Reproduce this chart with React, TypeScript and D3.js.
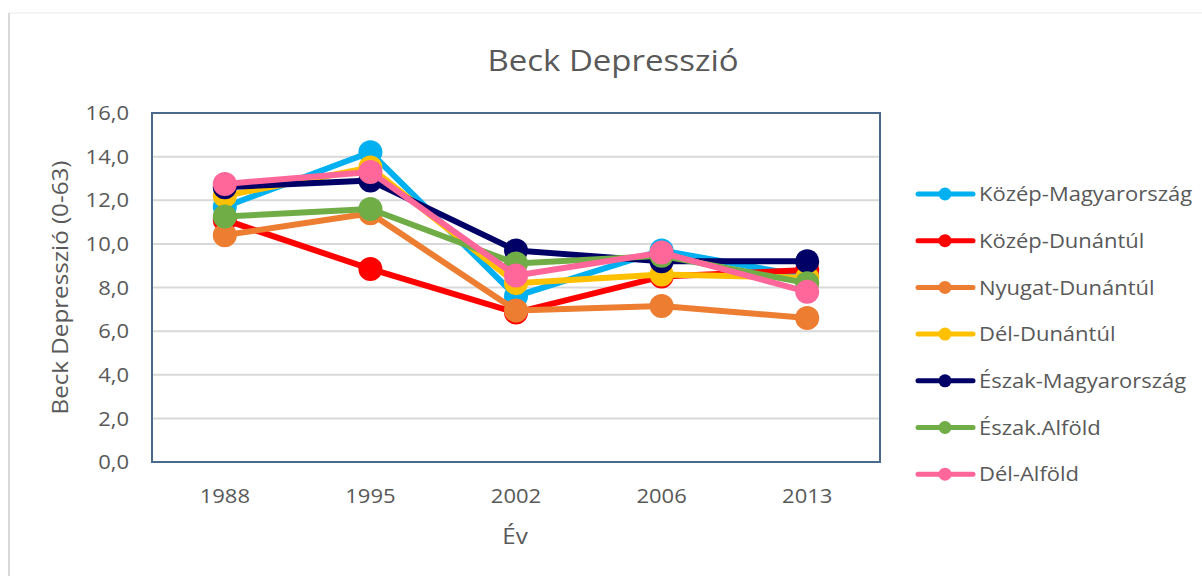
import React from "react";
import { scalePoint, scaleLinear, line } from "d3";

const years = ["1988", "1995", "2002", "2006", "2013"];
const yTicks = [0, 2, 4, 6, 8, 10, 12, 14, 16];

const regionNames = [
  "Közép-Magyarország",
  "Közép-Dunántúl",
  "Nyugat-Dunántúl",
  "Dél-Dunántúl",
  "Észak-Magyarország",
  "Észak.Alföld",
  "Dél-Alföld",
];
const regionColors = ["#00B0F0", "#FF0000", "#ED7D31", "#FFC000", "#000066", "#70AD47", "#FF6699"];

const kozepMagyar = [11.7, 14.2, 7.6, 9.7, 8.5];
const kozepDunantul = [11.1, 8.85, 6.85, 8.5, 8.8];
const nyugatDunantul = [10.4, 11.4, 6.95, 7.15, 6.6];
const delDunantul = [12.2, 13.5, 8.2, 8.6, 8.45];
const eszakMagyar = [12.6, 12.9, 9.7, 9.2, 9.2];
const eszakAlfold = [11.25, 11.6, 9.1, 9.45, 8.2];
const delAlfold = [12.75, 13.3, 8.55, 9.6, 7.8];

const seriesValues = [kozepMagyar, kozepDunantul, nyugatDunantul, delDunantul, eszakMagyar, eszakAlfold, delAlfold];

const font = "'Open Sans', sans-serif";
const textColor = "#595959";

// the source text is a bit wider than Open Sans, stretch it horizontally
function Label({ x, y, size, anchor = "start", rotate = 0, dy, children }: any) {
  return (
    <text
      transform={`translate(${x},${y}) rotate(${rotate}) scale(1.1,1)`}
      textAnchor={anchor}
      dy={dy}
      fontFamily={font}
      fontSize={size}
      fill={textColor}
    >
      {children}
    </text>
  );
}

export default function App() {
  const left = 152, right = 880, top = 113, bottom = 462;
  const x = scalePoint<string>().domain(years).range([left, right]).padding(0.5);
  const y = scaleLinear().domain([0, 16]).range([bottom, top]);
  const path = line<number>()
    .x((d, i) => x(years[i]) as number)
    .y(d => y(d));

  return (
    <svg width={1202} height={576} style={{ position: "absolute", left: 0, top: 0, background: "#fff" }}>
      <line x1={9} x2={1202} y1={13} y2={13} stroke="#f0f0f0" strokeWidth={1.5} />
      <line x1={9} x2={9} y1={13} y2={576} stroke="#d9d9d9" strokeWidth={2} />

      <Label x={613} y={71} size={30} anchor="middle">Beck Depresszió</Label>

      {yTicks.map(t => (
        <g key={t}>
          {t > 0 && t < 16 && (
            <line x1={left} x2={right} y1={y(t)} y2={y(t)} stroke="#d9d9d9" strokeWidth={2} />
          )}
          <Label x={129} y={y(t)} dy="0.36em" size={20} anchor="end">
            {t.toFixed(1).replace(".", ",")}
          </Label>
        </g>
      ))}

      <rect x={left} y={top} width={right - left} height={bottom - top} fill="none" stroke="#4A6A8C" strokeWidth={2} />

      {years.map(yr => (
        <Label key={yr} x={x(yr)} y={503} size={20} anchor="middle">{yr}</Label>
      ))}
      <Label x={515} y={544} size={22} anchor="middle">Év</Label>
      <Label x={68} y={(top + bottom) / 2} size={22} anchor="middle" rotate={-90}>
        Beck Depresszió (0-63)
      </Label>

      {seriesValues.map((vals, si) => (
        <g key={regionNames[si]}>
          <path d={path(vals) || ""} fill="none" stroke={regionColors[si]} strokeWidth={6} strokeLinejoin="round" />
          {vals.map((v, i) => (
            <circle key={i} cx={x(years[i])} cy={y(v)} r={12} fill={regionColors[si]} />
          ))}
        </g>
      ))}

      {regionNames.map((name, i) => {
        const ly = 194 + i * 46.7;
        return (
          <g key={name}>
            <line x1={918} x2={973} y1={ly} y2={ly} stroke={regionColors[i]} strokeWidth={5} strokeLinecap="round" />
            <circle cx={945} cy={ly} r={6.5} fill={regionColors[i]} />
            <Label x={979} y={ly} dy="0.36em" size={20}>{name}</Label>
          </g>
        );
      })}
    </svg>
  );
}
